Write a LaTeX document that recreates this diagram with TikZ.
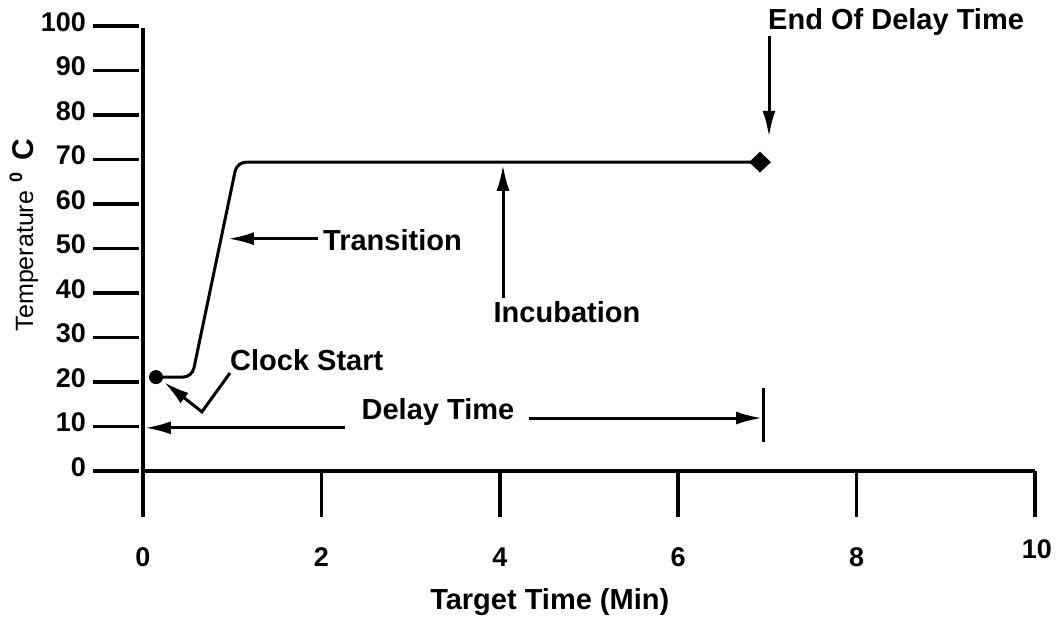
\documentclass[tikz,border=0pt]{standalone}
\usepackage{fontspec}
\setmainfont{Liberation Sans}
\usetikzlibrary{positioning, shapes.geometric, arrows.meta}
\tikzset{
    axisline/.style={
        line width=3.5pt, line cap=butt
    },
    curve/.style={
        line width=3pt, rounded corners=9pt
    },
    lbl/.style={
        inner sep=0pt, font=\fontsize{29}{32}\selectfont\bfseries
    },
    ticklbl/.style={
        inner sep=0pt, font=\fontsize{27}{30}\selectfont\bfseries
    },
    mm/.style={
        line width=3pt, -{Latex[length=26pt, width=13pt]}
    },
    marker/.style={
        diamond, fill=black, inner sep=0pt,
        minimum width=22pt, minimum height=21pt
    }
}

\begin{document}
\begin{tikzpicture}[x=89.2pt, y=4.45pt]
        \useasboundingbox (-1.603,-33.48) rectangle (10.269,105.84);
        % \draw[help lines, step=1] (0,0) grid (10,100);

        % Axes

        \draw[axisline] (0,-10.3) -- (0,99.5);
        \draw[axisline] (0,0) -- (10,0);

        \foreach \v in {0,10,...,100} {
            \draw[axisline] (-0.56,\v) -- (-0.04,\v);
            \node[ticklbl, anchor=east] (ylab\v) at ([xshift=-7pt, yshift=4pt]-0.56,\v) {\v};
        }
        \foreach \t in {2,4,...,10} {
            \draw[axisline] (\t,0) -- (\t,-10.3);
        }
        \foreach \t in {0,2,...,8} {
            \node[ticklbl] (xlab\t) at (\t,-19.3) {\t};
        }
        \node[ticklbl] (xlab10) at (10.02,-17.5) {10};

        \node[lbl] (xtitle) at (4.56,-29.4) {Target Time (Min)};
        \node[inner sep=0pt, rotate=90, anchor=base] (ytitle) at (-1.233,53)
            {\fontsize{25}{28}\selectfont Temperature\hspace{8pt}\raisebox{11pt}{\fontsize{18}{20}\selectfont\bfseries 0}\hspace{12pt}{\fontsize{30}{32}\selectfont\bfseries C}};

        % Heating curve

        \fill (0.146,21.1) circle (7pt) coordinate (start);
        \node[marker] (finish) at (6.917,69.4) {};
        \draw[curve] (start) -- (0.55,21.1) -- (1.054,69.4) -- (finish.center);

        % Labels and pointers

        \node[lbl, anchor=west] (clock)   at (0.975,24.9) {Clock Start};
        \node[lbl, anchor=west] (trans)   at (2.018,51.9) {Transition};
        \node[lbl]              (incub)   at (4.753,35.7) {Incubation};
        \node[lbl, anchor=west] (endlbl)  at (7.007,100.9) {End Of Delay Time};
        \node[lbl]              (delay)   at (3.307,13.3) {Delay Time};

        \coordinate (clockbend) at (0.661,13.3);
        \coordinate (clocktip)  at (0.235,20.0);
        \coordinate (transtip)  at (0.953,52.2);
        \coordinate (incubtip)  at (4.036,68.8);
        \coordinate (endtip)    at (7.018,75.1);
        \coordinate (dlytip)    at (0.022,9.7);
        \coordinate (dlyend)    at (6.94,11.9);

        \draw[mm] ([yshift=-2pt]clock.south west) -- (clockbend) -- (clocktip);
        \path ([xshift=-5pt]trans.west |- transtip) edge[mm] (transtip)
                ([yshift=3pt]incub.north -| incubtip) edge[mm] (incubtip)
                (endlbl.south -| endtip) edge[mm] (endtip)
                ([xshift=-16pt]delay.west |- dlytip) edge[mm] (dlytip)
                ([xshift=15pt]delay.east |- dlyend) edge[mm] (dlyend);

        \draw[line width=3pt] (6.951,18.65) -- (6.951,6.5);
    \end{tikzpicture}
\end{document}
